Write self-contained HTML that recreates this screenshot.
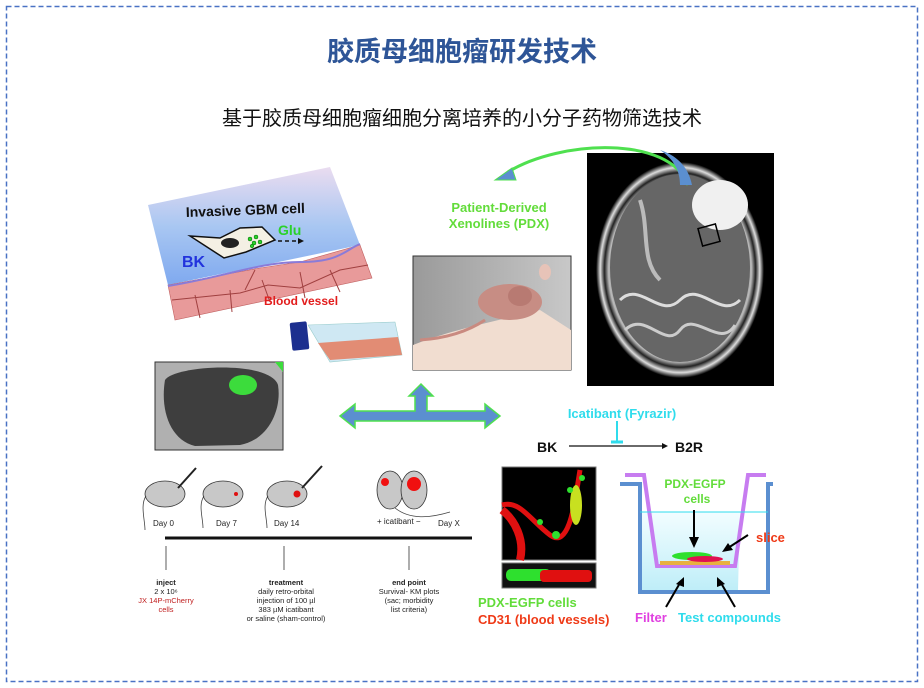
<!DOCTYPE html>
<html><head><meta charset="utf-8"><style>
html,body{margin:0;padding:0;background:#fff;}
svg{display:block;}
text{font-family:"Liberation Sans","Noto Sans CJK SC",sans-serif;}
</style></head><body>
<svg width="924" height="688" viewBox="0 0 924 688" xmlns="http://www.w3.org/2000/svg">
<defs>
<linearGradient id="bl" x1="0" y1="0" x2="0" y2="1"><stop offset="0" stop-color="#eadcf0"/><stop offset="0.5" stop-color="#a9c7f2"/><stop offset="1" stop-color="#7fa9ef"/></linearGradient>
<linearGradient id="ws" x1="0" y1="0" x2="0" y2="1"><stop offset="0" stop-color="#f2fdff"/><stop offset="1" stop-color="#bfeef8"/></linearGradient>
<radialGradient id="mri" cx="0.5" cy="0.5" r="0.5"><stop offset="0" stop-color="#8a8a8a"/><stop offset="0.7" stop-color="#555"/><stop offset="0.85" stop-color="#bbb"/><stop offset="0.9" stop-color="#222"/><stop offset="0.95" stop-color="#ddd"/><stop offset="1" stop-color="#000"/></radialGradient>
<linearGradient id="mp" x1="0" y1="0" x2="1" y2="0"><stop offset="0" stop-color="#9a9a9a"/><stop offset="1" stop-color="#c8c8c8"/></linearGradient>
</defs>
<rect x="6.5" y="6.5" width="911" height="675" fill="none" stroke="#4a72c4" stroke-width="1.5" stroke-dasharray="5,3"/>
<text x="462" y="61" text-anchor="middle" font-size="27" font-weight="bold" fill="#2e5597">胶质母细胞瘤研发技术</text>
<text x="462" y="125" text-anchor="middle" font-size="20" fill="#111">基于胶质母细胞瘤细胞分离培养的小分子药物筛选技术</text>

<!-- top-left illustration -->
<g>
<polygon points="148,205 330,167 360,245 168,285" fill="url(#bl)"/>
<polygon points="168,285 260,268 300,262 360,245 372,278 175,320" fill="#e89a9a" stroke="#c06060" stroke-width="0.6"/>
<path d="M168,286 C220,278 260,262 300,262 S345,250 360,244" fill="none" stroke="#8a7bd8" stroke-width="2"/>
<path d="M172,300 L240,293 L268,285 L300,288 L340,270 L368,265 M195,295 L200,318 M230,290 L232,312 M262,280 L270,302 M300,272 L305,298 M330,270 L340,292 M245,290 L255,270" fill="none" stroke="#a04040" stroke-width="1"/>
<text x="186" y="217" font-size="14" font-weight="bold" fill="#111" transform="rotate(-2 186 217)">Invasive GBM cell</text>
<text x="278" y="235" font-size="14" font-weight="bold" fill="#2bd12b">Glu</text>
<text x="182" y="267" font-size="16" font-weight="bold" fill="#2233dd">BK</text>
<path d="M190,236 L220,238 L240,228 L262,227 L275,240 L246,252 L224,258 Z" fill="#f4f0e4" stroke="#111" stroke-width="1.5"/>
<ellipse cx="230" cy="243" rx="9" ry="5" fill="#222"/>
<g fill="#2bd12b" stroke="#060" stroke-width="0.5"><circle cx="250" cy="239" r="2"/><circle cx="256" cy="237" r="2"/><circle cx="254" cy="243" r="2"/><circle cx="260" cy="242" r="2"/><circle cx="252" cy="246" r="1.8"/></g>
<line x1="278" y1="241" x2="298" y2="241" stroke="#111" stroke-width="1.5" stroke-dasharray="4,3"/>
<polygon points="298,238 304,241 298,244" fill="#111"/>
<text x="264" y="305" font-size="12" font-weight="bold" fill="#e21c1c">Blood vessel</text>
</g>
<!-- flask -->
<polygon points="308,325 395,322 402,355 330,362" fill="#cfe8f3" stroke="#9cc" stroke-width="0.6"/>
<polygon points="318,343 398,337 402,355 330,360" fill="#e28c74"/>
<rect x="291" y="322" width="17" height="28" rx="2" fill="#1c2f8f" transform="rotate(-6 300 336)"/>

<!-- brain slice -->
<rect x="155" y="362" width="128" height="88" fill="#b0b0b0" stroke="#333"/>
<path d="M165,380 C175,365 270,360 278,385 C282,410 268,440 240,445 L195,446 C170,440 160,410 165,380Z" fill="#3e3e3e"/>
<ellipse cx="243" cy="385" rx="14" ry="10" fill="#3cdc3c"/>
<polygon points="275,362 283,362 283,372" fill="#3cdc3c"/>

<!-- blue arrows -->
<g fill="#5b8fd0" stroke="#4fe04f" stroke-width="1.5">
<polygon points="340,416 355,404 355,411 415,411 415,396 409,396 421,384 433,396 427,396 427,411 485,411 485,404 500,416 485,428 485,421 355,421 355,428"/>
</g>

<!-- mouse photo -->
<rect x="413" y="256" width="158" height="114" fill="url(#mp)" stroke="#333"/>
<path d="M413,345 C450,330 500,320 540,310 L571,330 L571,370 L413,370Z" fill="#f1ddd0"/>
<ellipse cx="510" cy="302" rx="32" ry="18" fill="#c78d84"/>
<ellipse cx="520" cy="296" rx="12" ry="10" fill="#b87a72"/>
<ellipse cx="545" cy="272" rx="6" ry="8" fill="#e7c3b8"/>
<path d="M420,340 C450,338 470,330 485,320" stroke="#c98a80" stroke-width="3" fill="none"/>

<!-- MRI -->
<rect x="587" y="153" width="187" height="233" fill="#000"/>
<ellipse cx="680" cy="270" rx="84" ry="108" fill="url(#mri)"/>
<ellipse cx="680" cy="268" rx="70" ry="94" fill="#666"/>
<ellipse cx="720" cy="205" rx="28" ry="25" fill="#f0f0f0"/>
<path d="M620,300 C640,280 660,320 680,300 S720,320 740,300" stroke="#ddd" stroke-width="3" fill="none"/>
<path d="M625,330 C645,310 665,350 680,330 S720,350 735,325" stroke="#ccc" stroke-width="3" fill="none"/>
<path d="M640,200 C650,230 640,260 660,280" stroke="#bbb" stroke-width="4" fill="none"/>
<rect x="700" y="226" width="18" height="18" fill="none" stroke="#000" stroke-width="1.5" transform="rotate(-15 709 235)"/>

<!-- green curved arrow -->
<path d="M688,185 C670,135 560,140 508,172" fill="none" stroke="#4fe04f" stroke-width="3"/>
<path d="M680,185 L692,185 C688,165 675,155 660,150 C675,160 680,172 680,185Z" fill="#5b8fd0"/>
<polygon points="495,180 512,168 516,180" fill="#5b8fd0" stroke="#4fe04f" stroke-width="1"/>
<text x="499" y="212" text-anchor="middle" font-size="13" font-weight="bold" fill="#62dc3a">Patient-Derived</text>
<text x="499" y="228" text-anchor="middle" font-size="13" font-weight="bold" fill="#62dc3a">Xenolines (PDX)</text>

<!-- BK / B2R -->
<text x="622" y="418" text-anchor="middle" font-size="13" font-weight="bold" fill="#2fdcec">Icatibant (Fyrazir)</text>
<line x1="617" y1="421" x2="617" y2="441" stroke="#2fdcec" stroke-width="2"/>
<line x1="611" y1="442" x2="623" y2="442" stroke="#2fdcec" stroke-width="3"/>
<text x="537" y="452" font-size="14" font-weight="bold" fill="#111">BK</text>
<line x1="569" y1="446" x2="662" y2="446" stroke="#111" stroke-width="1.3"/>
<polygon points="662,443 668,446 662,449" fill="#111"/>
<text x="675" y="452" font-size="14" font-weight="bold" fill="#111">B2R</text>

<!-- fluorescence -->
<rect x="502" y="467" width="94" height="93" fill="#000" stroke="#777"/>
<path d="M502,505 C520,500 530,520 550,535 S575,500 580,470" stroke="#e01010" stroke-width="5" fill="none"/>
<path d="M502,510 C515,520 525,540 520,560" stroke="#e01010" stroke-width="8" fill="none"/>
<ellipse cx="576" cy="505" rx="6" ry="20" fill="#c8e020"/>
<circle cx="582" cy="478" r="3" fill="#2ee02e"/><circle cx="570" cy="490" r="3" fill="#2ee02e"/><circle cx="556" cy="535" r="4" fill="#2ee02e"/><circle cx="540" cy="522" r="3" fill="#2ee02e"/>
<rect x="502" y="563" width="94" height="25" fill="#111" stroke="#777"/>
<rect x="506" y="569" width="45" height="12" rx="5" fill="#2ee02e"/>
<rect x="540" y="570" width="52" height="12" rx="4" fill="#e01010"/>
<text x="478" y="607" font-size="13" font-weight="bold" fill="#62dc3a">PDX-EGFP cells</text>
<text x="478" y="624" font-size="13" font-weight="bold" fill="#ef3a17">CD31 (blood vessels)</text>

<!-- transwell -->
<polygon points="642,512 740,512 738,590 640,590" fill="url(#ws)"/>
<polyline points="620,484 640,484 640,592 768,592 768,484 773,484" fill="none" stroke="#5b8fd0" stroke-width="4"/>
<polyline points="625,475 644,475 657,566 735,566 748,475 766,475" fill="none" stroke="#c77cf0" stroke-width="4"/>
<line x1="640" y1="512" x2="768" y2="512" stroke="#2fdcec" stroke-width="1"/>
<rect x="660" y="561" width="70" height="4" fill="#e8b040"/>
<ellipse cx="692" cy="556" rx="20" ry="4" fill="#2ee02e"/>
<ellipse cx="705" cy="559" rx="18" ry="3" fill="#e01050"/>
<text x="695" y="488" text-anchor="middle" font-size="12" font-weight="bold" fill="#62dc3a">PDX-EGFP</text>
<text x="697" y="503" text-anchor="middle" font-size="12" font-weight="bold" fill="#62dc3a">cells</text>
<line x1="694" y1="510" x2="694" y2="540" stroke="#000" stroke-width="2"/><polygon points="689,537 694,548 699,537" fill="#000"/>
<text x="756" y="542" font-size="13" font-weight="bold" fill="#ef3a17">slice</text>
<line x1="748" y1="535" x2="728" y2="548" stroke="#000" stroke-width="2"/><polygon points="722,552 728,543 733,550" fill="#000"/>
<line x1="666" y1="607" x2="680" y2="583" stroke="#000" stroke-width="2"/><polygon points="684,577 676,584 684,587" fill="#000"/>
<line x1="735" y1="607" x2="721" y2="583" stroke="#000" stroke-width="2"/><polygon points="717,577 717,587 725,584" fill="#000"/>
<text x="635" y="622" font-size="13" font-weight="bold" fill="#e040e0">Filter</text>
<text x="678" y="622" font-size="13" font-weight="bold" fill="#2fdcec">Test compounds</text>

<!-- mouse timeline -->
<g fill="#c8c8c8" stroke="#333" stroke-width="0.8">
<ellipse cx="165" cy="494" rx="20" ry="13"/>
<ellipse cx="223" cy="494" rx="20" ry="13"/>
<ellipse cx="287" cy="494" rx="20" ry="13"/>
<ellipse cx="390" cy="490" rx="13" ry="19"/>
<ellipse cx="414" cy="490" rx="13" ry="19"/>
</g>
<g fill="none" stroke="#444" stroke-width="0.8">
<path d="M146,496 C140,505 145,520 145,530"/><path d="M204,496 C198,505 203,518 203,528"/><path d="M268,496 C262,505 267,518 267,528"/><path d="M395,508 C410,520 430,518 450,512"/>
</g>
<circle cx="236" cy="494" r="2" fill="#e01010"/><circle cx="297" cy="494" r="3.5" fill="#e01010"/>
<circle cx="385" cy="482" r="4" fill="#f01010"/><circle cx="414" cy="484" r="7" fill="#f01010"/>
<line x1="178" y1="488" x2="196" y2="468" stroke="#222" stroke-width="2"/><line x1="302" y1="488" x2="322" y2="466" stroke="#222" stroke-width="2"/>
<g font-size="8" fill="#222">
<text x="153" y="526">Day 0</text><text x="216" y="526">Day 7</text><text x="274" y="526">Day 14</text>
<text x="377" y="524">+ icatibant −</text><text x="438" y="526">Day X</text>
</g>
<line x1="165" y1="538" x2="472" y2="538" stroke="#111" stroke-width="3"/>
<g stroke="#333" stroke-width="0.8"><line x1="166" y1="546" x2="166" y2="570"/><line x1="284" y1="546" x2="284" y2="570"/><line x1="409" y1="546" x2="409" y2="570"/></g>
<g font-size="7.5" fill="#222" text-anchor="middle">
<text x="166" y="585" font-weight="bold">inject</text><text x="166" y="594">2 x 10⁶</text><text x="166" y="603" fill="#c02020">JX 14P-mCherry</text><text x="166" y="612" fill="#c02020">cells</text>
<text x="286" y="585" font-weight="bold">treatment</text><text x="286" y="594">daily retro-orbital</text><text x="286" y="603">injection of 100 µl</text><text x="286" y="612">383 µM icatibant</text><text x="286" y="621">or saline (sham-control)</text>
<text x="409" y="585" font-weight="bold">end point</text><text x="409" y="594">Survival- KM plots</text><text x="409" y="603">(sac; morbidity</text><text x="409" y="612">list criteria)</text>
</g>
</svg>
</body></html>
